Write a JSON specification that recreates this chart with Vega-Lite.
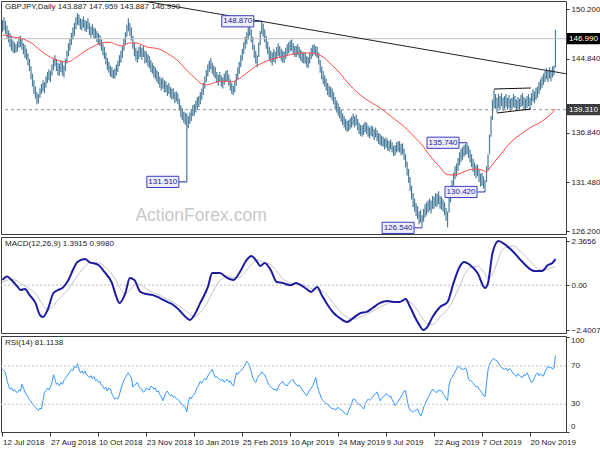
{
"$schema":"https://vega.github.io/schema/vega-lite/v6.json",
"padding":{"left":-3,"top":0,"right":0,"bottom":0},
"spacing":3,
"bounds":"flush",
"background":"white",
"config":{"view":{"stroke":"#3c3c3c","strokeWidth":1},
"axis":{"labelFont":"Liberation Sans","labelFontSize":8,"labelColor":"#1a1a1a","tickColor":"#333333","tickSize":3,"grid":false,"domain":false,"labelPadding":2},
"text":{"font":"Liberation Sans"}},
"datasets":{
"bars":[
{"i":0,"h":149.0,"l":147.7},{"i":1,"h":149.3,"l":147.9},{"i":2,"h":148.9,"l":147.5},{"i":3,"h":148.4,"l":147.0},{"i":4,"h":147.9,"l":146.6},{"i":5,"h":147.6,"l":146.1},{"i":6,"h":147.2,"l":145.7},{"i":7,"h":146.8,"l":145.5},{"i":8,"h":146.6,"l":145.4},{"i":9,"h":146.4,"l":145.5},
{"i":10,"h":146.7,"l":145.6},{"i":11,"h":147.2,"l":146.0},{"i":12,"h":147.3,"l":146.1},{"i":13,"h":147.0,"l":145.8},{"i":14,"h":146.5,"l":145.3},{"i":15,"h":146.3,"l":144.9},{"i":16,"h":145.9,"l":144.7},{"i":17,"h":145.4,"l":144.1},{"i":18,"h":144.8,"l":143.5},{"i":19,"h":144.0,"l":142.6},
{"i":20,"h":143.2,"l":141.8},{"i":21,"h":142.5,"l":141.0},{"i":22,"h":141.8,"l":140.5},{"i":23,"h":141.2,"l":139.9},{"i":24,"h":141.0,"l":140.0},{"i":25,"h":141.6,"l":140.6},{"i":26,"h":142.1,"l":141.0},{"i":27,"h":142.5,"l":141.3},{"i":28,"h":142.3,"l":141.1},{"i":29,"h":142.9,"l":141.7},
{"i":30,"h":143.4,"l":142.2},{"i":31,"h":143.7,"l":142.5},{"i":32,"h":143.5,"l":142.3},{"i":33,"h":144.2,"l":143.0},{"i":34,"h":144.8,"l":143.6},{"i":35,"h":145.2,"l":144.0},{"i":36,"h":144.8,"l":143.5},{"i":37,"h":144.4,"l":143.0},{"i":38,"h":144.3,"l":143.0},{"i":39,"h":144.7,"l":143.4},
{"i":40,"h":144.5,"l":143.0},{"i":41,"h":144.1,"l":142.8},{"i":42,"h":144.8,"l":143.5},{"i":43,"h":145.7,"l":144.3},{"i":44,"h":146.5,"l":145.1},{"i":45,"h":147.1,"l":145.7},{"i":46,"h":147.6,"l":146.3},{"i":47,"h":148.2,"l":146.9},{"i":48,"h":148.7,"l":147.3},{"i":49,"h":149.3,"l":148.0},
{"i":50,"h":149.75,"l":148.5},{"i":51,"h":149.6,"l":148.4},{"i":52,"h":149.2,"l":148.0},{"i":53,"h":149.1,"l":147.9},{"i":54,"h":149.4,"l":148.2},{"i":55,"h":149.0,"l":147.8},{"i":56,"h":148.9,"l":147.7},{"i":57,"h":149.2,"l":148.0},{"i":58,"h":148.7,"l":147.4},{"i":59,"h":148.3,"l":147.1},
{"i":60,"h":148.6,"l":147.4},{"i":61,"h":148.2,"l":147.0},{"i":62,"h":148.1,"l":147.0},{"i":63,"h":147.8,"l":146.6},{"i":64,"h":147.6,"l":146.4},{"i":65,"h":147.4,"l":146.2},{"i":66,"h":146.9,"l":145.7},{"i":67,"h":146.5,"l":145.2},{"i":68,"h":146.1,"l":144.8},{"i":69,"h":145.5,"l":144.2},
{"i":70,"h":144.9,"l":143.6},{"i":71,"h":144.5,"l":143.3},{"i":72,"h":144.1,"l":142.9},{"i":73,"h":143.9,"l":142.8},{"i":74,"h":143.6,"l":142.7},{"i":75,"h":143.8,"l":142.7},{"i":76,"h":144.2,"l":143.0},{"i":77,"h":144.6,"l":143.4},{"i":78,"h":145.2,"l":144.0},{"i":79,"h":145.7,"l":144.4},
{"i":80,"h":146.2,"l":144.9},{"i":81,"h":147.0,"l":145.7},{"i":82,"h":147.7,"l":146.4},{"i":83,"h":148.5,"l":147.2},{"i":84,"h":149.2,"l":147.8},{"i":85,"h":148.7,"l":147.3},{"i":86,"h":148.2,"l":146.8},{"i":87,"h":147.3,"l":145.9},{"i":88,"h":146.6,"l":145.1},{"i":89,"h":146.0,"l":144.6},
{"i":90,"h":145.7,"l":144.4},{"i":91,"h":146.1,"l":144.8},{"i":92,"h":146.3,"l":145.0},{"i":93,"h":146.0,"l":144.7},{"i":94,"h":146.2,"l":145.0},{"i":95,"h":145.7,"l":144.3},{"i":96,"h":145.6,"l":144.4},{"i":97,"h":145.3,"l":144.0},{"i":98,"h":145.1,"l":143.8},{"i":99,"h":144.7,"l":143.4},
{"i":100,"h":144.4,"l":143.2},{"i":101,"h":144.1,"l":142.8},{"i":102,"h":143.9,"l":142.6},{"i":103,"h":143.6,"l":142.3},{"i":104,"h":143.4,"l":142.1},{"i":105,"h":142.9,"l":141.7},{"i":106,"h":142.7,"l":141.4},{"i":107,"h":142.8,"l":141.6},{"i":108,"h":142.5,"l":141.2},{"i":109,"h":142.4,"l":141.2},
{"i":110,"h":142.0,"l":140.8},{"i":111,"h":142.2,"l":141.0},{"i":112,"h":141.8,"l":140.6},{"i":113,"h":141.6,"l":140.4},{"i":114,"h":141.6,"l":140.5},{"i":115,"h":141.2,"l":140.0},{"i":116,"h":141.3,"l":140.2},{"i":117,"h":141.1,"l":139.9},{"i":118,"h":140.5,"l":139.2},{"i":119,"h":139.8,"l":138.5},
{"i":120,"h":139.5,"l":138.2},{"i":121,"h":139.1,"l":137.9},{"i":122,"h":139.0,"l":137.7},{"i":123,"h":138.9,"l":131.51},{"i":124,"h":138.6,"l":137.3},{"i":125,"h":139.0,"l":137.8},{"i":126,"h":139.4,"l":138.1},{"i":127,"h":139.8,"l":138.6},{"i":128,"h":139.9,"l":138.7},{"i":129,"h":140.3,"l":139.0},
{"i":130,"h":140.7,"l":139.4},{"i":131,"h":140.8,"l":139.6},{"i":132,"h":141.2,"l":139.9},{"i":133,"h":141.6,"l":140.4},{"i":134,"h":142.2,"l":140.9},{"i":135,"h":142.9,"l":141.6},{"i":136,"h":143.6,"l":142.3},{"i":137,"h":144.2,"l":142.9},{"i":138,"h":144.6,"l":143.4},{"i":139,"h":144.9,"l":143.7},
{"i":140,"h":144.4,"l":143.2},{"i":141,"h":144.1,"l":142.9},{"i":142,"h":143.9,"l":142.7},{"i":143,"h":143.4,"l":142.2},{"i":144,"h":143.1,"l":141.9},{"i":145,"h":143.4,"l":142.3},{"i":146,"h":143.0,"l":141.8},{"i":147,"h":142.8,"l":141.6},{"i":148,"h":143.2,"l":142.0},{"i":149,"h":143.5,"l":142.3},
{"i":150,"h":143.6,"l":142.4},{"i":151,"h":143.1,"l":141.9},{"i":152,"h":142.6,"l":141.4},{"i":153,"h":142.2,"l":141.0},{"i":154,"h":141.9,"l":140.9},{"i":155,"h":142.4,"l":141.2},{"i":156,"h":143.2,"l":141.9},{"i":157,"h":143.9,"l":142.6},{"i":158,"h":144.5,"l":143.2},{"i":159,"h":145.2,"l":143.9},
{"i":160,"h":145.9,"l":144.6},{"i":161,"h":146.6,"l":145.3},{"i":162,"h":147.2,"l":145.9},{"i":163,"h":147.7,"l":146.4},{"i":164,"h":148.2,"l":146.9},{"i":165,"h":148.6,"l":147.3},{"i":166,"h":148.0,"l":146.6},{"i":167,"h":147.2,"l":145.8},{"i":168,"h":146.3,"l":144.9},{"i":169,"h":145.7,"l":144.3},
{"i":170,"h":145.2,"l":143.9},{"i":171,"h":146.6,"l":145.0},{"i":172,"h":147.8,"l":146.3},{"i":173,"h":148.87,"l":147.5},{"i":174,"h":148.6,"l":147.2},{"i":175,"h":148.0,"l":146.6},{"i":176,"h":147.3,"l":145.9},{"i":177,"h":146.7,"l":145.3},{"i":178,"h":146.1,"l":144.7},{"i":179,"h":145.7,"l":144.4},
{"i":180,"h":145.5,"l":144.1},{"i":181,"h":145.9,"l":144.5},{"i":182,"h":145.6,"l":144.3},{"i":183,"h":146.1,"l":144.8},{"i":184,"h":146.5,"l":145.1},{"i":185,"h":146.2,"l":144.9},{"i":186,"h":145.9,"l":144.6},{"i":187,"h":145.7,"l":144.4},{"i":188,"h":145.6,"l":144.4},{"i":189,"h":146.0,"l":144.8},
{"i":190,"h":146.4,"l":145.2},{"i":191,"h":146.6,"l":145.4},{"i":192,"h":146.8,"l":145.6},{"i":193,"h":146.9,"l":145.7},{"i":194,"h":146.5,"l":145.3},{"i":195,"h":146.2,"l":145.0},{"i":196,"h":146.2,"l":145.0},{"i":197,"h":146.4,"l":145.2},{"i":198,"h":146.1,"l":144.9},{"i":199,"h":145.8,"l":144.6},
{"i":200,"h":145.6,"l":144.4},{"i":201,"h":145.5,"l":144.3},{"i":202,"h":145.5,"l":144.3},{"i":203,"h":145.1,"l":143.9},{"i":204,"h":145.0,"l":143.8},{"i":205,"h":145.5,"l":144.3},{"i":206,"h":146.0,"l":144.8},{"i":207,"h":146.3,"l":145.1},{"i":208,"h":146.4,"l":145.3},{"i":209,"h":146.2,"l":145.1},
{"i":210,"h":146.1,"l":144.9},{"i":211,"h":145.5,"l":144.2},{"i":212,"h":144.7,"l":143.3},{"i":213,"h":144.0,"l":142.6},{"i":214,"h":143.5,"l":142.1},{"i":215,"h":143.0,"l":141.8},{"i":216,"h":142.7,"l":141.4},{"i":217,"h":142.2,"l":140.9},{"i":218,"h":141.9,"l":140.7},{"i":219,"h":141.8,"l":140.6},
{"i":220,"h":141.6,"l":140.3},{"i":221,"h":141.2,"l":139.9},{"i":222,"h":140.7,"l":139.4},{"i":223,"h":140.3,"l":139.0},{"i":224,"h":140.0,"l":138.7},{"i":225,"h":139.6,"l":138.4},{"i":226,"h":139.3,"l":138.0},{"i":227,"h":138.9,"l":137.7},{"i":228,"h":138.6,"l":137.4},{"i":229,"h":138.3,"l":137.1},
{"i":230,"h":138.1,"l":136.9},{"i":231,"h":138.2,"l":137.0},{"i":232,"h":138.4,"l":137.2},{"i":233,"h":138.6,"l":137.4},{"i":234,"h":138.9,"l":137.7},{"i":235,"h":138.6,"l":137.4},{"i":236,"h":138.8,"l":137.6},{"i":237,"h":138.3,"l":137.1},{"i":238,"h":137.9,"l":136.7},{"i":239,"h":137.7,"l":136.5},
{"i":240,"h":137.6,"l":136.4},{"i":241,"h":137.8,"l":136.6},{"i":242,"h":138.0,"l":136.9},{"i":243,"h":137.9,"l":136.7},{"i":244,"h":137.6,"l":136.4},{"i":245,"h":137.4,"l":136.2},{"i":246,"h":137.6,"l":136.5},{"i":247,"h":137.5,"l":136.4},{"i":248,"h":137.2,"l":136.0},{"i":249,"h":137.4,"l":136.3},
{"i":250,"h":137.1,"l":135.9},{"i":251,"h":136.8,"l":135.6},{"i":252,"h":136.7,"l":135.5},{"i":253,"h":136.5,"l":135.4},{"i":254,"h":136.4,"l":135.3},{"i":255,"h":136.2,"l":135.0},{"i":256,"h":136.3,"l":135.2},{"i":257,"h":136.1,"l":134.9},{"i":258,"h":135.9,"l":134.8},{"i":259,"h":136.1,"l":135.0},
{"i":260,"h":135.8,"l":134.7},{"i":261,"h":135.4,"l":134.3},{"i":262,"h":135.5,"l":134.4},{"i":263,"h":135.8,"l":134.7},{"i":264,"h":135.9,"l":134.8},{"i":265,"h":135.9,"l":134.7},{"i":266,"h":135.6,"l":134.4},{"i":267,"h":135.7,"l":134.5},{"i":268,"h":135.1,"l":133.9},{"i":269,"h":134.5,"l":133.1},
{"i":270,"h":133.7,"l":132.2},{"i":271,"h":132.9,"l":131.4},{"i":272,"h":132.0,"l":130.5},{"i":273,"h":131.1,"l":129.6},{"i":274,"h":130.3,"l":128.8},{"i":275,"h":129.7,"l":128.3},{"i":276,"h":129.2,"l":127.8},{"i":277,"h":128.9,"l":127.5},{"i":278,"h":128.3,"l":126.9},{"i":279,"h":128.5,"l":127.1},
{"i":280,"h":127.9,"l":126.54},{"i":281,"h":128.6,"l":127.2},{"i":282,"h":129.1,"l":127.7},{"i":283,"h":129.3,"l":127.9},{"i":284,"h":129.5,"l":128.2},{"i":285,"h":129.7,"l":128.4},{"i":286,"h":129.5,"l":128.1},{"i":287,"h":130.0,"l":128.6},{"i":288,"h":129.9,"l":128.6},{"i":289,"h":130.3,"l":128.9},
{"i":290,"h":130.2,"l":128.8},{"i":291,"h":130.5,"l":129.1},{"i":292,"h":130.0,"l":128.6},{"i":293,"h":129.9,"l":128.5},{"i":294,"h":129.6,"l":128.3},{"i":295,"h":129.3,"l":127.9},{"i":296,"h":128.7,"l":127.3},{"i":297,"h":128.3,"l":126.6},{"i":298,"h":129.9,"l":128.2},{"i":299,"h":130.8,"l":129.3},
{"i":300,"h":131.7,"l":130.3},{"i":301,"h":132.5,"l":131.1},{"i":302,"h":133.2,"l":131.8},{"i":303,"h":133.5,"l":132.1},{"i":304,"h":134.1,"l":132.7},{"i":305,"h":134.7,"l":133.3},{"i":306,"h":135.1,"l":133.7},{"i":307,"h":135.3,"l":133.9},{"i":308,"h":135.5,"l":134.2},{"i":309,"h":135.6,"l":134.4},
{"i":310,"h":135.74,"l":134.5},{"i":311,"h":135.4,"l":134.1},{"i":312,"h":135.0,"l":133.6},{"i":313,"h":134.5,"l":133.1},{"i":314,"h":134.0,"l":132.6},{"i":315,"h":133.6,"l":132.2},{"i":316,"h":133.3,"l":131.9},{"i":317,"h":133.4,"l":132.1},{"i":318,"h":132.9,"l":131.5},{"i":319,"h":132.4,"l":131.0},
{"i":320,"h":132.5,"l":131.1},{"i":321,"h":132.1,"l":130.8},{"i":322,"h":131.7,"l":130.42},{"i":323,"h":133.2,"l":131.5},{"i":324,"h":134.5,"l":132.8},{"i":325,"h":136.6,"l":134.5},{"i":326,"h":138.6,"l":136.4},{"i":327,"h":140.4,"l":138.2},{"i":328,"h":141.5,"l":139.5},{"i":329,"h":141.0,"l":139.4},
{"i":330,"h":140.6,"l":139.0},{"i":331,"h":141.0,"l":139.5},{"i":332,"h":140.8,"l":139.3},{"i":333,"h":141.1,"l":139.7},{"i":334,"h":140.6,"l":139.2},{"i":335,"h":140.8,"l":139.4},{"i":336,"h":141.0,"l":139.6},{"i":337,"h":140.6,"l":139.3},{"i":338,"h":140.9,"l":139.5},{"i":339,"h":140.5,"l":139.2},
{"i":340,"h":140.6,"l":139.4},{"i":341,"h":141.0,"l":139.6},{"i":342,"h":140.8,"l":139.5},{"i":343,"h":140.4,"l":139.2},{"i":344,"h":140.7,"l":139.4},{"i":345,"h":140.5,"l":139.3},{"i":346,"h":140.9,"l":139.6},{"i":347,"h":141.1,"l":139.7},{"i":348,"h":140.7,"l":139.4},{"i":349,"h":140.5,"l":139.2},
{"i":350,"h":140.8,"l":139.5},{"i":351,"h":141.0,"l":139.7},{"i":352,"h":140.6,"l":139.3},{"i":353,"h":141.1,"l":139.8},{"i":354,"h":141.5,"l":140.2},{"i":355,"h":141.3,"l":140.0},{"i":356,"h":141.7,"l":140.4},{"i":357,"h":141.8,"l":140.6},{"i":358,"h":142.3,"l":141.0},{"i":359,"h":142.6,"l":141.4},
{"i":360,"h":142.9,"l":141.7},{"i":361,"h":143.2,"l":142.0},{"i":362,"h":143.5,"l":142.3},{"i":363,"h":143.8,"l":142.6},{"i":364,"h":143.5,"l":142.3},{"i":365,"h":143.9,"l":142.7},{"i":366,"h":143.6,"l":142.4},{"i":367,"h":144.0,"l":142.8},{"i":368,"h":144.1,"l":143.0},{"i":369,"h":147.959,"l":143.887}
],
"ma":[
{"i":0,"v":147.4},{"i":4,"v":147.3},{"i":8,"v":147.15},{"i":12,"v":147.05},{"i":16,"v":146.8},{"i":20,"v":146.45},{"i":24,"v":145.9},{"i":28,"v":145.4},{"i":32,"v":145.0},{"i":36,"v":144.7},{"i":40,"v":144.5},{"i":44,"v":144.5},{"i":48,"v":144.85},{"i":52,"v":145.3},{"i":56,"v":145.75},{"i":60,"v":146.1},{"i":64,"v":146.4},{"i":68,"v":146.6},{"i":72,"v":146.6},{"i":76,"v":146.35},{"i":80,"v":146.2},{"i":84,"v":146.5},{"i":88,"v":146.55},{"i":92,"v":146.4},{"i":96,"v":146.1},{"i":100,"v":146.0},{"i":104,"v":145.9},{"i":108,"v":145.6},{"i":112,"v":145.2},{"i":116,"v":144.75},{"i":120,"v":144.1},{"i":124,"v":143.4},{"i":128,"v":142.8},{"i":132,"v":142.2},{"i":136,"v":142.0},{"i":140,"v":142.15},{"i":144,"v":142.35},{"i":148,"v":142.4},{"i":152,"v":142.3},{"i":156,"v":142.5},{"i":160,"v":142.9},{"i":164,"v":143.4},{"i":168,"v":143.9},{"i":172,"v":144.25},{"i":176,"v":144.55},{"i":180,"v":144.75},{"i":184,"v":144.95},{"i":188,"v":145.1},{"i":192,"v":145.25},{"i":196,"v":145.4},{"i":200,"v":145.45},{"i":204,"v":145.45},{"i":208,"v":145.4},{"i":212,"v":145.2},{"i":216,"v":144.75},{"i":220,"v":144.1},{"i":224,"v":143.5},{"i":228,"v":142.7},{"i":232,"v":141.95},{"i":236,"v":141.3},{"i":240,"v":140.75},{"i":244,"v":140.3},{"i":248,"v":139.9},{"i":252,"v":139.5},{"i":256,"v":139.0},{"i":260,"v":138.5},{"i":264,"v":138.0},{"i":268,"v":137.5},{"i":272,"v":136.85},{"i":276,"v":136.2},{"i":280,"v":135.5},{"i":284,"v":134.6},{"i":288,"v":133.8},{"i":292,"v":133.1},{"i":296,"v":132.35},{"i":300,"v":132.25},{"i":304,"v":132.35},{"i":308,"v":132.6},{"i":312,"v":132.85},{"i":316,"v":132.9},{"i":320,"v":132.8},{"i":323,"v":132.6},{"i":326,"v":133.2},{"i":330,"v":134.0},{"i":334,"v":134.8},{"i":338,"v":135.6},{"i":342,"v":136.2},{"i":346,"v":136.7},{"i":350,"v":137.15},{"i":354,"v":137.55},{"i":358,"v":137.85},{"i":362,"v":138.3},{"i":366,"v":138.85},{"i":369,"v":139.4}
],
"macd":[
{"i":0,"m":0.28,"s":0.15},{"i":3,"m":0.46,"s":0.25},{"i":6,"m":0.28,"s":0.32},{"i":10,"m":-0.08,"s":0.22},{"i":12,"m":-0.26,"s":0.1},{"i":15,"m":-0.2,"s":-0.05},{"i":18,"m":-0.52,"s":-0.2},{"i":22,"m":-0.95,"s":-0.45},{"i":25,"m":-1.6,"s":-0.8},{"i":27,"m":-1.7,"s":-1.05},{"i":30,"m":-1.34,"s":-1.3},{"i":34,"m":-0.42,"s":-1.1},{"i":37,"m":-0.26,"s":-0.8},{"i":40,"m":-0.15,"s":-0.55},{"i":44,"m":0.28,"s":-0.2},{"i":47,"m":0.81,"s":0.15},{"i":50,"m":1.24,"s":0.5},{"i":55,"m":1.4,"s":1.0},{"i":58,"m":1.24,"s":1.2},{"i":64,"m":1.08,"s":1.2},{"i":68,"m":0.71,"s":1.0},{"i":73,"m":0.12,"s":0.6},{"i":76,"m":-0.63,"s":0.2},{"i":78,"m":-0.95,"s":-0.1},{"i":82,"m":-0.42,"s":-0.45},{"i":85,"m":0.39,"s":-0.3},{"i":88,"m":0.28,"s":0.0},{"i":92,"m":-0.36,"s":0.05},{"i":96,"m":-0.47,"s":-0.2},{"i":100,"m":-0.52,"s":-0.38},{"i":105,"m":-0.69,"s":-0.55},{"i":110,"m":-0.9,"s":-0.75},{"i":114,"m":-1.06,"s":-0.92},{"i":118,"m":-1.34,"s":-1.12},{"i":123,"m":-1.76,"s":-1.42},{"i":125,"m":-1.86,"s":-1.55},{"i":128,"m":-1.6,"s":-1.7},{"i":132,"m":-0.95,"s":-1.45},{"i":137,"m":-0.1,"s":-0.9},{"i":140,"m":0.65,"s":-0.4},{"i":145,"m":0.65,"s":0.25},{"i":150,"m":0.39,"s":0.5},{"i":154,"m":0.28,"s":0.4},{"i":158,"m":0.65,"s":0.42},{"i":163,"m":1.35,"s":0.8},{"i":166,"m":1.56,"s":1.1},{"i":170,"m":1.24,"s":1.35},{"i":172,"m":1.03,"s":1.3},{"i":175,"m":1.19,"s":1.2},{"i":179,"m":0.81,"s":1.1},{"i":183,"m":0.17,"s":0.75},{"i":187,"m":0.12,"s":0.35},{"i":192,"m":0.0,"s":0.12},{"i":196,"m":0.12,"s":0.06},{"i":199,"m":0.0,"s":0.05},{"i":202,"m":-0.15,"s":-0.02},{"i":206,"m":-0.36,"s":-0.18},{"i":210,"m":-0.1,"s":-0.25},{"i":213,"m":-0.52,"s":-0.3},{"i":217,"m":-1.06,"s":-0.6},{"i":221,"m":-1.49,"s":-1.0},{"i":225,"m":-1.76,"s":-1.38},{"i":230,"m":-1.97,"s":-1.72},{"i":234,"m":-1.76,"s":-1.82},{"i":239,"m":-1.49,"s":-1.7},{"i":243,"m":-1.43,"s":-1.55},{"i":247,"m":-1.22,"s":-1.4},{"i":252,"m":-0.95,"s":-1.18},{"i":257,"m":-0.85,"s":-0.98},{"i":261,"m":-0.9,"s":-0.9},{"i":265,"m":-0.9,"s":-0.88},{"i":269,"m":-0.74,"s":-0.85},{"i":272,"m":-1.17,"s":-0.9},{"i":277,"m":-1.97,"s":-1.35},{"i":281,"m":-2.4007,"s":-1.85},{"i":283,"m":-2.29,"s":-2.05},{"i":287,"m":-1.7,"s":-2.1},{"i":292,"m":-1.17,"s":-1.7},{"i":297,"m":-0.9,"s":-1.3},{"i":301,"m":0.12,"s":-0.75},{"i":305,"m":0.97,"s":-0.05},{"i":308,"m":1.24,"s":0.5},{"i":312,"m":1.08,"s":0.95},{"i":317,"m":0.65,"s":1.0},{"i":322,"m":-0.15,"s":0.6},{"i":324,"m":0.12,"s":0.35},{"i":327,"m":1.72,"s":0.6},{"i":331,"m":2.3656,"s":1.4},{"i":334,"m":2.25,"s":1.95},{"i":341,"m":1.78,"s":2.1},{"i":347,"m":1.24,"s":1.7},{"i":355,"m":0.76,"s":1.05},{"i":360,"m":0.76,"s":0.8},{"i":364,"m":1.08,"s":0.85},{"i":367,"m":1.19,"s":0.95},{"i":369,"m":1.3915,"s":0.998}
],
"rsi":[
{"i":0,"r":66.6},{"i":1,"r":65},{"i":2,"r":63},{"i":3,"r":55},{"i":4,"r":50},{"i":5,"r":46},{"i":6,"r":47},{"i":7,"r":44},{"i":8,"r":45.5},{"i":9,"r":43},{"i":10,"r":42.4},{"i":11,"r":45},{"i":12,"r":44},{"i":13,"r":51},{"i":14,"r":47},{"i":15,"r":42.7},{"i":16,"r":40},{"i":17,"r":37.6},{"i":18,"r":35},{"i":19,"r":33},{"i":20,"r":30.3},{"i":21,"r":29},{"i":22,"r":27},{"i":23,"r":25},{"i":24,"r":23.4},{"i":25,"r":26},{"i":26,"r":25},{"i":27,"r":34},{"i":28,"r":42.7},{"i":29,"r":44},{"i":30,"r":47},{"i":31,"r":45},{"i":32,"r":48},{"i":33,"r":53},{"i":34,"r":61},{"i":35,"r":56},{"i":36,"r":51},{"i":37,"r":52},{"i":38,"r":49.3},{"i":39,"r":53},{"i":40,"r":51},{"i":41,"r":55},{"i":42,"r":57},{"i":43,"r":59.6},{"i":44,"r":62},{"i":45,"r":64},{"i":46,"r":66.6},{"i":47,"r":65},{"i":48,"r":70},{"i":49,"r":68},{"i":50,"r":72.5},{"i":51,"r":67},{"i":52,"r":63},{"i":53,"r":65},{"i":54,"r":62},{"i":55,"r":64.8},{"i":56,"r":61},{"i":57,"r":60},{"i":58,"r":58},{"i":59,"r":60},{"i":60,"r":57},{"i":61,"r":59},{"i":62,"r":55},{"i":63,"r":56},{"i":64,"r":53},{"i":65,"r":54},{"i":66,"r":50},{"i":67,"r":49},{"i":68,"r":46},{"i":69,"r":48},{"i":70,"r":44},{"i":71,"r":47},{"i":72,"r":46},{"i":73,"r":41},{"i":74,"r":38},{"i":75,"r":35.5},{"i":76,"r":37},{"i":77,"r":35.5},{"i":78,"r":40},{"i":79,"r":46},{"i":80,"r":51},{"i":81,"r":55},{"i":82,"r":58},{"i":83,"r":61},{"i":84,"r":63},{"i":85,"r":60},{"i":86,"r":58},{"i":87,"r":48},{"i":88,"r":50},{"i":89,"r":51},{"i":90,"r":53},{"i":91,"r":49},{"i":92,"r":47},{"i":93,"r":45},{"i":94,"r":42.7},{"i":95,"r":44},{"i":96,"r":47},{"i":97,"r":46},{"i":98,"r":45},{"i":99,"r":49},{"i":100,"r":48},{"i":101,"r":46},{"i":102,"r":47},{"i":103,"r":43},{"i":104,"r":44},{"i":105,"r":40},{"i":106,"r":38},{"i":107,"r":33.7},{"i":108,"r":38},{"i":109,"r":42},{"i":110,"r":44},{"i":111,"r":41},{"i":112,"r":39},{"i":113,"r":40},{"i":114,"r":37.6},{"i":115,"r":38},{"i":116,"r":36},{"i":117,"r":35},{"i":118,"r":33.7},{"i":119,"r":31},{"i":120,"r":30},{"i":121,"r":28},{"i":122,"r":27},{"i":123,"r":22},{"i":124,"r":33},{"i":125,"r":37.6},{"i":126,"r":36},{"i":127,"r":39},{"i":128,"r":40.7},{"i":129,"r":44},{"i":130,"r":48},{"i":131,"r":50},{"i":132,"r":54},{"i":133,"r":52},{"i":134,"r":55},{"i":135,"r":57},{"i":136,"r":56},{"i":137,"r":59.6},{"i":138,"r":62},{"i":139,"r":64},{"i":140,"r":66.6},{"i":141,"r":62},{"i":142,"r":58},{"i":143,"r":59},{"i":144,"r":57},{"i":145,"r":56},{"i":146,"r":55},{"i":147,"r":56},{"i":148,"r":53},{"i":149,"r":55},{"i":150,"r":56},{"i":151,"r":53},{"i":152,"r":54.5},{"i":153,"r":51},{"i":154,"r":49.3},{"i":155,"r":55},{"i":156,"r":63},{"i":157,"r":61},{"i":158,"r":64},{"i":159,"r":65},{"i":160,"r":66.6},{"i":161,"r":69},{"i":162,"r":72},{"i":163,"r":75},{"i":164,"r":73},{"i":165,"r":70},{"i":166,"r":64},{"i":167,"r":58},{"i":168,"r":55},{"i":169,"r":53},{"i":170,"r":57},{"i":171,"r":60},{"i":172,"r":61},{"i":173,"r":64},{"i":174,"r":62},{"i":175,"r":61},{"i":176,"r":57},{"i":177,"r":53},{"i":178,"r":50},{"i":179,"r":48},{"i":180,"r":47},{"i":181,"r":45},{"i":182,"r":46},{"i":183,"r":44},{"i":184,"r":48},{"i":185,"r":51},{"i":186,"r":52},{"i":187,"r":54},{"i":188,"r":51},{"i":189,"r":50},{"i":190,"r":49.3},{"i":191,"r":52},{"i":192,"r":54},{"i":193,"r":55},{"i":194,"r":56},{"i":195,"r":52},{"i":196,"r":51},{"i":197,"r":49.3},{"i":198,"r":50},{"i":199,"r":48},{"i":200,"r":45},{"i":201,"r":43},{"i":202,"r":41},{"i":203,"r":39},{"i":204,"r":42},{"i":205,"r":45},{"i":206,"r":47},{"i":207,"r":49.3},{"i":208,"r":53},{"i":209,"r":58},{"i":210,"r":50},{"i":211,"r":44},{"i":212,"r":40},{"i":213,"r":35.5},{"i":214,"r":34},{"i":215,"r":32},{"i":216,"r":31},{"i":217,"r":30.3},{"i":218,"r":28},{"i":219,"r":27},{"i":220,"r":25},{"i":221,"r":26},{"i":222,"r":24},{"i":223,"r":25},{"i":224,"r":27},{"i":225,"r":25},{"i":226,"r":24},{"i":227,"r":23.4},{"i":228,"r":21},{"i":229,"r":20},{"i":230,"r":19},{"i":231,"r":23},{"i":232,"r":27},{"i":233,"r":31},{"i":234,"r":35.5},{"i":235,"r":35.5},{"i":236,"r":33},{"i":237,"r":31},{"i":238,"r":30},{"i":239,"r":28.6},{"i":240,"r":27},{"i":241,"r":25},{"i":242,"r":30},{"i":243,"r":33},{"i":244,"r":35.5},{"i":245,"r":34},{"i":246,"r":36},{"i":247,"r":37.6},{"i":248,"r":40},{"i":249,"r":41},{"i":250,"r":43},{"i":251,"r":38},{"i":252,"r":33.7},{"i":253,"r":36},{"i":254,"r":38},{"i":255,"r":39},{"i":256,"r":41},{"i":257,"r":40},{"i":258,"r":38},{"i":259,"r":39},{"i":260,"r":35},{"i":261,"r":32},{"i":262,"r":28.6},{"i":263,"r":31},{"i":264,"r":33},{"i":265,"r":35.5},{"i":266,"r":38},{"i":267,"r":41},{"i":268,"r":44},{"i":269,"r":44},{"i":270,"r":35},{"i":271,"r":27},{"i":272,"r":24},{"i":273,"r":23},{"i":274,"r":21.7},{"i":275,"r":23},{"i":276,"r":24},{"i":277,"r":25},{"i":278,"r":21},{"i":279,"r":17.6},{"i":280,"r":21},{"i":281,"r":27},{"i":282,"r":30},{"i":283,"r":33.7},{"i":284,"r":37},{"i":285,"r":40},{"i":286,"r":43},{"i":287,"r":46},{"i":288,"r":44},{"i":289,"r":43},{"i":290,"r":42.4},{"i":291,"r":45},{"i":292,"r":44.5},{"i":293,"r":44},{"i":294,"r":41},{"i":295,"r":39},{"i":296,"r":36},{"i":297,"r":34},{"i":298,"r":50},{"i":299,"r":56},{"i":300,"r":58},{"i":301,"r":61},{"i":302,"r":64},{"i":303,"r":67},{"i":304,"r":70},{"i":305,"r":69},{"i":306,"r":67},{"i":307,"r":66.6},{"i":308,"r":67},{"i":309,"r":68.3},{"i":310,"r":64},{"i":311,"r":56},{"i":312,"r":55},{"i":313,"r":54},{"i":314,"r":52.7},{"i":315,"r":50},{"i":316,"r":48},{"i":317,"r":49},{"i":318,"r":46},{"i":319,"r":44},{"i":320,"r":42},{"i":321,"r":39},{"i":322,"r":38},{"i":323,"r":52},{"i":324,"r":66},{"i":325,"r":72},{"i":326,"r":75},{"i":327,"r":77},{"i":328,"r":78},{"i":329,"r":76},{"i":330,"r":76},{"i":331,"r":73},{"i":332,"r":70},{"i":333,"r":69},{"i":334,"r":67},{"i":335,"r":66.6},{"i":336,"r":68},{"i":337,"r":65},{"i":338,"r":67},{"i":339,"r":66.6},{"i":340,"r":64},{"i":341,"r":62},{"i":342,"r":61},{"i":343,"r":59},{"i":344,"r":62},{"i":345,"r":60},{"i":346,"r":59},{"i":347,"r":58},{"i":348,"r":61},{"i":349,"r":60},{"i":350,"r":63},{"i":351,"r":60},{"i":352,"r":56},{"i":353,"r":52.7},{"i":354,"r":54},{"i":355,"r":58},{"i":356,"r":61},{"i":357,"r":63},{"i":358,"r":60},{"i":359,"r":62},{"i":360,"r":60},{"i":361,"r":59.6},{"i":362,"r":64},{"i":363,"r":67},{"i":364,"r":70},{"i":365,"r":68},{"i":366,"r":69},{"i":367,"r":66.6},{"i":368,"r":68},{"i":369,"r":81.1138}
],
"trend":[{"i":93.8,"p":151.07},{"i":376,"p":143.2}],
"tri":[{"g":"top","i":328,"p":141.55},{"g":"top","i":352.6,"p":141.66},{"g":"bot","i":330,"p":138.96},{"g":"bot","i":352.6,"p":139.39}],
"lab":[{"i":173,"p":148.87,"t":"148.870"},{"i":123,"p":131.51,"t":"131.510"},{"i":310,"p":135.74,"t":"135.740"},{"i":322,"p":130.42,"t":"130.420"},{"i":280,"p":126.54,"t":"126.540"}],
"lvl":[{"p":146.99,"t":"146.990"},{"p":139.31,"t":"139.310"}],
"rsilab":[{"v":70,"t":"70"},{"v":30,"t":"30"}]
},
"vconcat":[
{"width":565,"height":233,
"layer":[
{"data":{"name":"bars"},"mark":{"type":"rule","color":"#4a7c9b","strokeWidth":1.2},
"encoding":{"x":{"field":"i","type":"quantitative","scale":{"domain":[-1,376.04],"nice":false,"zero":false},"axis":null},
"y":{"field":"l","type":"quantitative","scale":{"domain":[125.876,151.065],"nice":false,"zero":false},"axis":{"orient":"right","title":null,"values":[126.2,128.84,131.48,134.2,136.84,142.2,144.84,147.56,150.2],"format":".3f","labelOverlap":false}},
"y2":{"field":"h"}}},
{"data":{"name":"lvl"},"transform":[{"filter":"datum.p > 145"}],"mark":{"type":"rule","color":"#c0c0c0","strokeWidth":1},"encoding":{"y":{"field":"p","type":"quantitative","title":null}}},
{"data":{"name":"lvl"},"transform":[{"filter":"datum.p < 145"}],"mark":{"type":"rule","color":"#8c8c8c","strokeWidth":1,"strokeDash":[3,3]},"encoding":{"y":{"field":"p","type":"quantitative","title":null}}},
{"data":{"name":"ma"},"mark":{"type":"line","color":"#ff4a4a","strokeWidth":1,"interpolate":"monotone"},"encoding":{"x":{"field":"i","type":"quantitative","title":null},"y":{"field":"v","type":"quantitative","title":null}}},
{"data":{"name":"trend"},"mark":{"type":"line","color":"#222222","strokeWidth":1,"clip":true},"encoding":{"x":{"field":"i","type":"quantitative","title":null},"y":{"field":"p","type":"quantitative","title":null}}},
{"data":{"name":"tri"},"mark":{"type":"line","color":"#111111","strokeWidth":1},"encoding":{"x":{"field":"i","type":"quantitative","title":null},"y":{"field":"p","type":"quantitative","title":null},"detail":{"field":"g"}}},
{"data":{"name":"lab"},"mark":{"type":"point","shape":"M-1,0H1","size":64,"filled":false,"stroke":"#2a2aa8","strokeWidth":1,"opacity":1,"xOffset":-4},"encoding":{"x":{"field":"i","type":"quantitative","title":null},"y":{"field":"p","type":"quantitative","title":null}}},
{"data":{"name":"lab"},"mark":{"type":"point","shape":"M-1,-0.35H1V0.35H-1Z","size":1024,"filled":true,"fill":"#eeeefc","stroke":"#3c3cc0","strokeWidth":1,"opacity":1,"xOffset":-24},"encoding":{"x":{"field":"i","type":"quantitative","title":null},"y":{"field":"p","type":"quantitative","title":null}}},
{"data":{"name":"lab"},"mark":{"type":"text","dx":-24,"align":"center","baseline":"middle","fontSize":8,"color":"#1a1a9a"},"encoding":{"x":{"field":"i","type":"quantitative","title":null},"y":{"field":"p","type":"quantitative","title":null},"text":{"field":"t"}}},
{"data":{"values":[{}]},"mark":{"type":"text","text":"ActionForex.com","fontSize":17.5,"color":"#c8c8c8","align":"center","baseline":"middle"},"encoding":{"x":{"datum":132.5},"y":{"datum":127.8}}},
{"data":{"values":[{}]},"mark":{"type":"text","text":"GBPJPY,Daily  143.887 147.959 143.887 146.990","fontSize":8,"color":"#222222","align":"left","baseline":"top","dx":4,"dy":2},"encoding":{"x":{"datum":-1},"y":{"datum":151.065}}},
{"data":{"name":"lvl"},"transform":[{"filter":"datum.p > 145"}],"mark":{"type":"point","shape":"M-1,-0.34H1V0.34H-1Z","size":1089,"filled":true,"fill":"#000000","strokeWidth":0,"opacity":1,"xOffset":17.5},"encoding":{"x":{"datum":376.04},"y":{"field":"p","type":"quantitative","title":null}}},
{"data":{"name":"lvl"},"transform":[{"filter":"datum.p < 145"}],"mark":{"type":"point","shape":"M-1,-0.34H1V0.34H-1Z","size":1089,"filled":true,"fill":"#3c3c3c","strokeWidth":0,"opacity":1,"xOffset":17.5},"encoding":{"x":{"datum":376.04},"y":{"field":"p","type":"quantitative","title":null}}},
{"data":{"name":"lvl"},"mark":{"type":"text","dx":3,"align":"left","baseline":"middle","fontSize":8,"color":"#ffffff"},"encoding":{"x":{"datum":376.04},"y":{"field":"p","type":"quantitative","title":null},"text":{"field":"t"}}}
]},
{"width":565,"height":96,
"layer":[
{"data":{"name":"macd"},"mark":{"type":"line","color":"#c4c4c4","strokeWidth":1,"interpolate":"monotone"},
"encoding":{"x":{"field":"i","type":"quantitative","scale":{"domain":[-1,376.04],"nice":false,"zero":false},"axis":null},
"y":{"field":"s","type":"quantitative","scale":{"domain":[-2.561,2.58],"nice":false,"zero":false},"axis":{"orient":"right","title":null,"values":[-2.4007,0,2.3656],"labelExpr":"datum.value == 0 ? '0.00' : format(datum.value, '.4f')","labelOverlap":false}}}},
{"data":{"values":[{}]},"mark":{"type":"rule","color":"#c0c0c0","strokeWidth":1,"strokeDash":[2,2]},"encoding":{"y":{"datum":0}}},
{"data":{"name":"macd"},"mark":{"type":"line","color":"#1c1ca0","strokeWidth":2,"interpolate":"monotone"},"encoding":{"x":{"field":"i","type":"quantitative","title":null},"y":{"field":"m","type":"quantitative","title":null}}},
{"data":{"values":[{}]},"mark":{"type":"text","text":"MACD(12,26,9) 1.3915 0.9980","fontSize":8,"color":"#222222","align":"left","baseline":"top","dx":4,"dy":3},"encoding":{"x":{"datum":-1},"y":{"datum":2.58}}}
]},
{"width":565,"height":96,
"layer":[
{"data":{"name":"rsi"},"mark":{"type":"line","color":"#3399ff","strokeWidth":1},
"encoding":{"x":{"field":"i","type":"quantitative","scale":{"domain":[-1,376.04],"nice":false,"zero":false},
"axis":{"orient":"bottom","title":null,"values":[0,32,64,96,128,160,192,224,256,288,320,352],"labelExpr":"['12 Jul 2018','27 Aug 2018','10 Oct 2018','23 Nov 2018','10 Jan 2019','25 Feb 2019','10 Apr 2019','24 May 2019','9 Jul 2019','22 Aug 2019','7 Oct 2019','20 Nov 2019'][round(datum.value/32)]","labelAlign":"left","tickSize":4,"labelPadding":2,"labelOverlap":false,"labelFlush":false}},
"y":{"field":"r","type":"quantitative","scale":{"domain":[1,101.5],"nice":false,"zero":false},"axis":{"orient":"right","title":null,"values":[1,30,70,100],"labels":false}}}},
{"data":{"values":[{"v":70},{"v":30}]},"mark":{"type":"rule","color":"#c0c0c0","strokeWidth":1,"strokeDash":[2,2]},"encoding":{"y":{"field":"v","type":"quantitative","title":null}}},
{"data":{"name":"rsilab"},"mark":{"type":"text","align":"left","baseline":"middle","dx":5,"fontSize":8,"color":"#1a1a1a"},"encoding":{"x":{"datum":376.04},"y":{"field":"v","type":"quantitative","title":null},"text":{"field":"t"}}},
{"data":{"values":[{}]},"mark":{"type":"text","text":"100","align":"left","baseline":"top","dx":5,"dy":1,"fontSize":8,"color":"#1a1a1a"},"encoding":{"x":{"datum":376.04},"y":{"datum":101.5}}},
{"data":{"values":[{}]},"mark":{"type":"text","text":"0","align":"left","baseline":"bottom","dx":5,"dy":-1,"fontSize":8,"color":"#1a1a1a"},"encoding":{"x":{"datum":376.04},"y":{"datum":1}}},
{"data":{"values":[{}]},"mark":{"type":"text","text":"RSI(14) 81.1138","fontSize":8,"color":"#222222","align":"left","baseline":"top","dx":4,"dy":3},"encoding":{"x":{"datum":-1},"y":{"datum":101.5}}}
]}
]
}
